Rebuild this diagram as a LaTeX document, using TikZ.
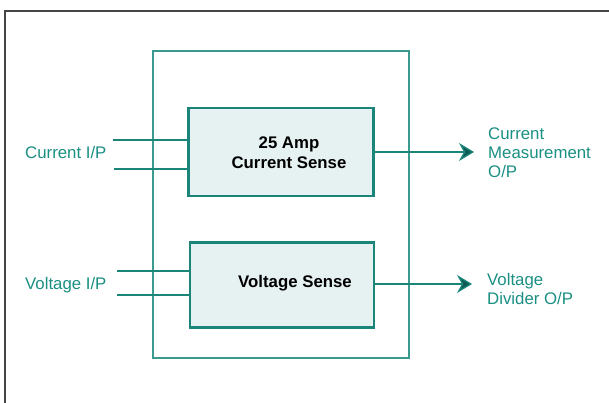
\documentclass[tikz,border=0pt]{standalone}
\usepackage{fontspec}
\setmainfont{Liberation Sans}
\usetikzlibrary{arrows.meta,positioning}
\definecolor{framegray}{HTML}{454545}
\definecolor{tealline}{HTML}{1B857A}
\definecolor{tealframe}{HTML}{3A9A90}
\definecolor{tealtext}{HTML}{1A8F83}
\definecolor{boxfill}{HTML}{E6F1F1}
\definecolor{tipfill}{HTML}{0F5A53}
\tikzset{
  sensebox/.style={draw=tealline, line width=2.4pt, fill=boxfill, inner sep=0pt},
  boxtext/.style={font=\fontsize{16.8pt}{20pt}\selectfont\bfseries, align=center, inner sep=0pt},
  iolabel/.style={font=\fontsize{16.8pt}{19pt}\selectfont, text=tealtext, align=left, inner sep=0pt},
  wire/.style={draw=tealline, line width=1.3pt},
  outwire/.style={wire, -{Stealth[length=15pt, width=18pt, inset=5pt, fill=tipfill]}}
}
\begin{document}
\begin{tikzpicture}[x=1pt,y=-1pt]
  \useasboundingbox (0,0) rectangle (609,402);
  % frame and module outline
  \draw[framegray, line width=1.5pt] (5,410) -- (5,11) -- (615,11);
  \draw[tealframe, line width=1.3pt] (153,51) rectangle (409,358);
  % sense blocks
  \node[sensebox, minimum width=185pt, minimum height=88pt] (cs) at (281,152) {};
  \node[sensebox, minimum width=184pt, minimum height=85pt] (vs) at (282,285) {};
  \node[boxtext] (cstext) at (289,153) {25 Amp\\Current Sense};
  \node[boxtext, anchor=base] (vstext) at (295,287) {Voltage Sense};
  % inputs
  \node[iolabel, anchor=base west] (ci) at (25,158) {Current I/P};
  \node[iolabel, anchor=base west] (vi) at (25,289) {Voltage I/P};
  \coordinate (ci1) at (113,140);
  \coordinate (ci2) at (114,169);
  \coordinate (vi1) at (117,271);
  \coordinate (vi2) at (117,295);
  \draw[wire] (ci1) -- (ci1 -| cs.west);
  \draw[wire] (ci2) -- (ci2 -| cs.west);
  \draw[wire] (vi1) -- (vi1 -| vs.west);
  \draw[wire] (vi2) -- (vi2 -| vs.west);
  % outputs
  \coordinate (cmo) at (474,152);
  \coordinate (vdo) at (472,284);
  \draw[outwire] (cs.east) -- (cmo);
  \draw[outwire] (vs.east |- vdo) -- (vdo);
  \node[iolabel, anchor=west] (cmlabel) at (488,153) {Current\\Measurement\\O/P};
  \node[iolabel, anchor=west] (vdlabel) at (487,289) {Voltage\\Divider O/P};
\end{tikzpicture}
\end{document}
